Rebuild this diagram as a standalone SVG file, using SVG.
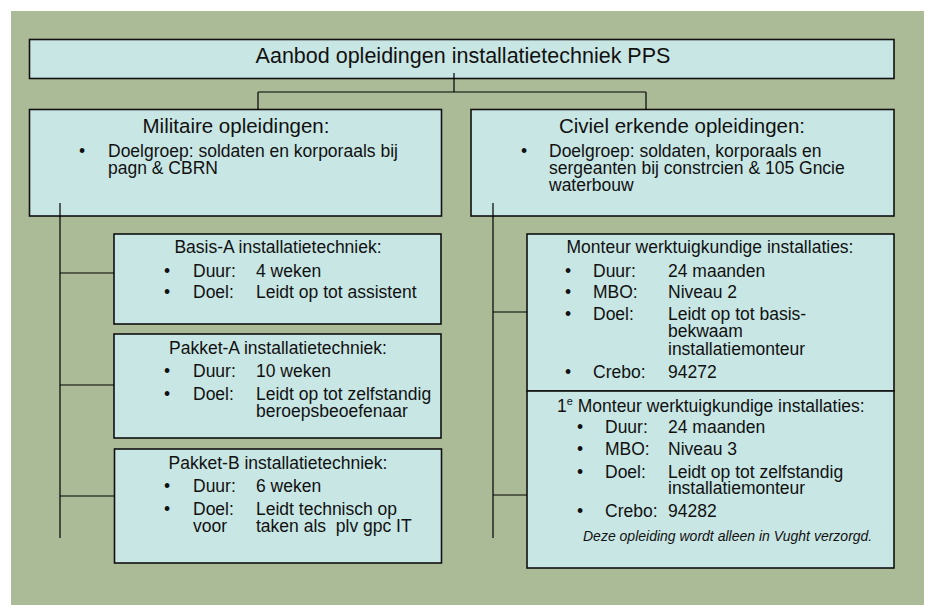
<svg xmlns="http://www.w3.org/2000/svg" width="930" height="605" viewBox="0 0 930 605">
<style>
.box{fill:#c8e6e4;stroke:#111;stroke-width:1.6}
.con{stroke:#000;stroke-width:1.2;fill:none}
text{font-family:"Liberation Sans",Arial,sans-serif;fill:#111}
.t1{font-size:21.5px}
.t2{font-size:20.5px}
.t3{font-size:17.5px}
.c{text-anchor:middle}
.pre{white-space:pre}
.note{font-size:14px;font-style:italic}
</style>
<rect x="0" y="0" width="930" height="605" fill="#ffffff"/>
<rect x="11" y="11" width="913" height="594" fill="#abbb97"/>

<g id="title">
<rect class="box" x="29.5" y="39.5" width="864.5" height="39"/>
<text class="t1 c" x="463" y="63">Aanbod opleidingen installatietechniek PPS</text>
</g>

<g id="militair">
<rect class="box" x="29.5" y="109.5" width="412" height="106.5"/>
<text class="t2 c" x="236" y="133">Militaire opleidingen:</text>
<text class="t3" x="79" y="157">•</text>
<text class="t3" x="108" y="157">Doelgroep: soldaten en korporaals bij</text>
<text class="t3" x="108" y="174">pagn &amp; CBRN</text>
</g>

<g id="civiel">
<rect class="box" x="471" y="109.5" width="423" height="106.5"/>
<text class="t2 c" x="682" y="133">Civiel erkende opleidingen:</text>
<text class="t3" x="521" y="157">•</text>
<text class="t3" x="549" y="157">Doelgroep: soldaten, korporaals en</text>
<text class="t3" x="549" y="174">sergeanten bij constrcien &amp; 105 Gncie</text>
<text class="t3" x="549" y="191">waterbouw</text>
</g>

<g id="basisA">
<rect class="box" x="114" y="234" width="327" height="90"/>
<text class="t3 c" x="278" y="253">Basis-A installatietechniek:</text>
<text class="t3" x="164" y="277">•</text>
<text class="t3" x="193" y="277">Duur:</text>
<text class="t3" x="256" y="277">4 weken</text>
<text class="t3" x="164" y="298">•</text>
<text class="t3" x="193" y="298">Doel:</text>
<text class="t3" x="256" y="298">Leidt op tot assistent</text>
</g>

<g id="pakketA">
<rect class="box" x="114" y="334" width="327" height="104"/>
<text class="t3 c" x="278" y="354">Pakket-A installatietechniek:</text>
<text class="t3" x="164" y="377">•</text>
<text class="t3" x="193" y="377">Duur:</text>
<text class="t3" x="256" y="377">10 weken</text>
<text class="t3" x="164" y="400">•</text>
<text class="t3" x="193" y="400">Doel:</text>
<text class="t3" x="256" y="400">Leidt op tot zelfstandig</text>
<text class="t3" x="256" y="417">beroepsbeoefenaar</text>
</g>

<g id="pakketB">
<rect class="box" x="114.5" y="449" width="327" height="114"/>
<text class="t3 c" x="278" y="469">Pakket-B installatietechniek:</text>
<text class="t3" x="164" y="492">•</text>
<text class="t3" x="193" y="492">Duur:</text>
<text class="t3" x="256" y="492">6 weken</text>
<text class="t3" x="164" y="515">•</text>
<text class="t3" x="193" y="515">Doel:</text>
<text class="t3" x="256" y="515">Leidt technisch op</text>
<text class="t3" x="193" y="532">voor</text>
<text class="t3 pre" x="256" y="532" xml:space="preserve">taken als  plv gpc IT</text>
</g>

<g id="monteur">
<rect class="box" x="527" y="234" width="367" height="157"/>
<text class="t3 c" x="710" y="253">Monteur werktuigkundige installaties:</text>
<text class="t3" x="565" y="277">•</text>
<text class="t3" x="593" y="277">Duur:</text>
<text class="t3" x="668" y="277">24 maanden</text>
<text class="t3" x="565" y="298">•</text>
<text class="t3" x="593" y="298">MBO:</text>
<text class="t3" x="668" y="298">Niveau 2</text>
<text class="t3" x="565" y="320">•</text>
<text class="t3" x="593" y="320">Doel:</text>
<text class="t3" x="668" y="320">Leidt op tot basis-</text>
<text class="t3" x="668" y="337">bekwaam</text>
<text class="t3" x="668" y="355">installatiemonteur</text>
<text class="t3" x="565" y="378">•</text>
<text class="t3" x="593" y="378">Crebo:</text>
<text class="t3" x="668" y="378">94272</text>
</g>

<g id="monteur1e">
<rect class="box" x="527" y="391" width="367" height="177"/>
<text class="t3" x="557" y="412">1<tspan font-size="11" dy="-7">e</tspan><tspan dy="7"> Monteur werktuigkundige installaties:</tspan></text>
<text class="t3" x="577" y="433">•</text>
<text class="t3" x="605" y="433">Duur:</text>
<text class="t3" x="668" y="433">24 maanden</text>
<text class="t3" x="577" y="455">•</text>
<text class="t3" x="605" y="455">MBO:</text>
<text class="t3" x="668" y="455">Niveau 3</text>
<text class="t3" x="577" y="478">•</text>
<text class="t3" x="605" y="478">Doel:</text>
<text class="t3" x="668" y="478">Leidt op tot zelfstandig</text>
<text class="t3" x="668" y="494">installatiemonteur</text>
<text class="t3" x="577" y="517">•</text>
<text class="t3" x="605" y="517">Crebo:</text>
<text class="t3" x="668" y="517">94282</text>
<text class="note" x="583" y="541">Deze opleiding wordt alleen in Vught verzorgd.</text>
</g>

<g id="connectors">
<path class="con" d="M454,73 V92 M258,92 H646 M258,92 V110 M646,92 V110"/>
<path class="con" d="M60,203 V538 M60,273 H114 M60,385 H114 M60,496 H114"/>
<path class="con" d="M493,203 V538 M493,312 H527 M493,495 H527"/>
</g>
</svg>
